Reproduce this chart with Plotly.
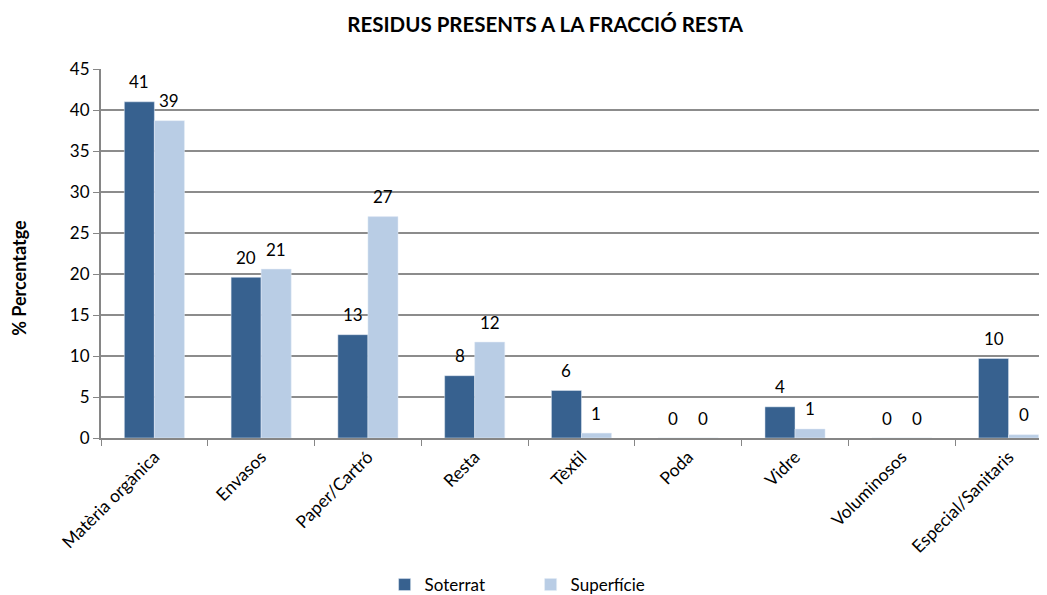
import plotly.graph_objects as go

categories = ["Matèria orgànica", "Envasos", "Paper/Cartró", "Resta", "Tèxtil",
              "Poda", "Vidre", "Voluminosos", "Especial/Sanitaris"]
soterrat = [41.0, 19.6, 12.6, 7.6, 5.8, 0.0, 3.8, 0.0, 9.7]
superficie = [38.7, 20.6, 27.0, 11.7, 0.6, 0.0, 1.1, 0.0, 0.4]
y_ticks = [0, 5, 10, 15, 20, 25, 30, 35, 40, 45]

FONT = "Lato"
fig = go.Figure()
fig.add_trace(go.Bar(x=categories, y=soterrat, name="Soterrat",
                     marker=dict(color="#37618F")))
fig.add_trace(go.Bar(x=categories, y=superficie, name="Superfície",
                     marker=dict(color="#B9CDE5")))

# data labels, lifted above each bar like the original chart
labels = []
for series, shift in ((soterrat, -15), (superficie, 15)):
    for cat, val in zip(categories, series):
        labels.append(dict(x=cat, y=val, xref="x", yref="y", text=f"{val:.0f}",
                           showarrow=False, xshift=shift, yshift=20,
                           xanchor="center", yanchor="middle",
                           font=dict(family=FONT, size=17, color="#000000")))

labels.append(dict(text="<b>% Percentatge</b>", textangle=-90,
                   xref="paper", yref="paper", x=-0.0867, y=0.434,
                   xanchor="center", yanchor="middle", showarrow=False,
                   font=dict(family=FONT, size=18, color="#000000")))

# the page body adds an 8px offset, so the figure is 8px smaller than the window
fig.update_layout(
    width=1039, height=587,
    margin=dict(l=93, r=0, t=61, b=157),
    paper_bgcolor="white", plot_bgcolor="white",
    barmode="group", bargap=0.437, bargroupgap=0,
    font=dict(family=FONT, size=17, color="#000000"),
    title=dict(text="<b>RESIDUS PRESENTS A LA FRACCIÓ RESTA</b>",
               x=0.517, xref="container", xanchor="center",
               y=0.971, yref="container", yanchor="middle",
               font=dict(family=FONT, size=20.5, color="#000000")),
    showlegend=True,
    legend=dict(orientation="h", x=0.503, xanchor="center", xref="container",
                y=0.017, yref="container", yanchor="middle",
                font=dict(family=FONT, size=17, color="#000000"),
                entrywidth=101, entrywidthmode="pixels",
                itemwidth=30, traceorder="normal"),
    xaxis=dict(
        range=[-0.5, 8.36], tickangle=-45, tickson="boundaries",
        ticks="outside", ticklen=6, tickcolor="#868686",
        showline=True, linecolor="#868686", linewidth=2,
        showgrid=False, tickfont=dict(family=FONT, size=17.5),
    ),
    yaxis=dict(
        range=[0, 45], tickvals=y_ticks, ticks="outside", ticklen=6,
        tickcolor="#868686", showline=True, linecolor="#868686", linewidth=2,
        showgrid=True, gridcolor="#8C8C8C", gridwidth=1.5,
        tickfont=dict(family=FONT, size=17), zeroline=False,
    ),
    annotations=labels,
)

fig.write_html("out.html")
